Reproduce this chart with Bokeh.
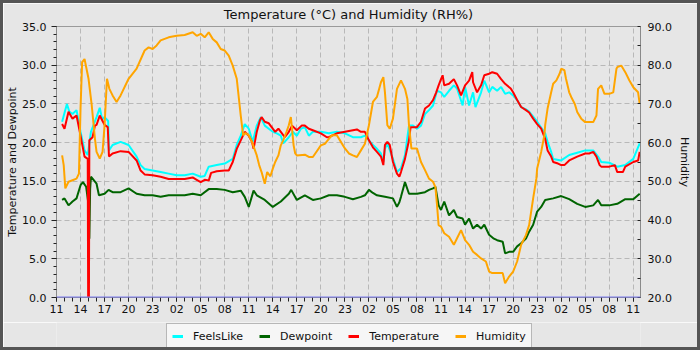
from bokeh.plotting import figure
from bokeh.layouts import column
from bokeh.models import (Range1d, LinearAxis, FixedTicker, NumeralTickFormatter,
                          Legend, LegendItem, Span, SingleIntervalTicker)
from bokeh.embed import file_html
from bokeh.resources import INLINE

# ---- axis ticks (hours since 11:00 of day 1) ----
hour_ticks = list(range(0, 73, 3))
hour_labels = ["11", "14", "17", "20", "23", "02", "05", "08"] * 3 + ["11"]

# ---- Temperature (°C) ----
temp_t = [0.7, 1.0, 1.5, 2.0, 2.5, 3.0, 3.5, 3.9, 3.95, 4.05, 4.1, 4.5, 4.8, 5.0, 5.4, 5.75, 6.0, 6.4, 6.55,
          7.0, 8.0, 9.0, 10.0, 10.5, 11.0, 12.0, 13.0, 14.0, 15.0, 16.0, 17.0, 17.5, 18.0, 18.5, 19.0, 19.3,
          20.0, 21.0, 21.5, 22.0, 22.5, 23.0, 23.5, 24.0, 24.4, 24.6, 25.0, 25.4, 25.6, 26.0, 26.5, 27.0,
          27.3, 27.7, 28.0, 28.5, 29.0, 29.4, 30.0, 30.6, 31.0, 31.5, 32.0, 33.0, 33.75, 34.0, 35.0, 36.0,
          37.0, 37.5, 38.0, 38.5, 39.0, 39.5, 40.0, 40.5, 40.8, 41.0, 41.3, 41.6, 42.0, 42.5, 42.8, 43.0,
          43.5, 44.0, 44.2, 45.0, 45.5, 46.0, 46.5, 47.0, 47.4, 47.7, 48.0, 48.2, 48.4, 49.0, 49.6, 50.0,
          50.5, 51.0, 51.5, 51.9, 52.0, 52.5, 53.0, 53.4, 54.0, 54.4, 55.0, 55.5, 56.0, 56.7, 57.0, 57.5,
          58.0, 58.6, 59.0, 59.5, 60.0, 60.5, 61.0, 61.3, 61.75, 62.0, 62.6, 63.0, 63.4, 64.0, 65.0, 66.0,
          66.5, 67.0, 67.4, 67.8, 68.0, 69.0, 69.7, 70.0, 70.7, 71.0, 72.0, 72.6, 72.8]
temp_v = [22.4, 21.8, 24.0, 23.1, 23.5, 20.9, 18.2, 17.9, 0.0, 0.0, 20.3, 20.7, 22.2, 22.3, 23.5, 22.8, 22.3, 22.0, 18.2,
          18.6, 18.9, 18.8, 17.7, 16.4, 15.9, 15.8, 15.6, 15.3, 15.3, 15.3, 15.5, 15.2, 14.9, 15.2, 15.1, 16.1,
          16.3, 16.4, 16.4, 17.5, 19.2, 20.3, 21.4, 20.9, 20.1, 19.2, 21.4, 22.9, 23.3, 22.7, 22.5, 21.8,
          21.4, 21.8, 21.4, 20.7, 21.4, 22.2, 21.6, 22.2, 22.2, 21.8, 21.6, 21.2, 20.7, 20.7, 21.2, 21.4,
          21.6, 21.7, 21.4, 21.4, 20.3, 19.4, 18.8, 18.2, 17.1, 19.7, 20.1, 19.7, 17.5, 16.0, 15.6, 16.2,
          17.9, 20.3, 22.0, 22.0, 22.7, 24.4, 24.8, 25.5, 26.5, 27.4, 28.2, 28.7, 27.4, 27.6, 28.2, 27.4,
          26.1, 27.4, 28.0, 29.1, 27.8, 26.5, 27.4, 28.7, 28.9, 29.1, 28.9, 28.2, 27.6, 27.0, 26.5, 25.5,
          24.6, 24.2, 23.9, 23.1, 22.4, 21.8, 20.5, 19.0, 18.2, 17.5, 17.3, 17.1, 17.1, 17.7, 18.2, 18.6,
          18.6, 18.8, 18.2, 17.1, 16.9, 16.9, 17.1, 16.2, 16.2, 16.9, 17.5, 17.7, 18.8]

# ---- FeelsLike (°C) ----
feels_t = [0.7, 1.3, 1.6, 2.0, 2.5, 3.0, 3.5, 3.9, 4.3, 4.7, 5.0, 5.4, 5.7, 6.0, 6.45, 6.55, 7.0, 8.0, 9.0,
           10.0, 10.5, 11.0, 12.0, 13.0, 14.0, 15.0, 16.0, 17.0, 18.0, 18.5, 19.0, 20.0, 21.0, 22.0, 22.5,
           23.0, 23.5, 24.0, 24.5, 25.0, 25.5, 26.0, 26.5, 27.0, 27.5, 28.0, 28.3, 29.0, 29.5, 30.0, 30.5,
           31.0, 31.5, 32.0, 33.0, 34.0, 35.0, 36.0, 37.0, 38.0, 38.5, 39.0, 39.5, 40.0, 40.5, 40.8, 41.0,
           41.3, 42.0, 42.5, 43.0, 43.5, 44.0, 44.5, 45.0, 45.5, 46.0, 46.5, 47.0, 47.5, 48.0, 48.4, 49.0,
           49.6, 50.0, 50.7, 51.0, 51.5, 52.0, 52.3, 53.0, 53.4, 54.0, 54.4, 55.0, 55.5, 56.0, 56.5, 57.0,
           57.5, 58.0, 58.6, 59.0, 60.0, 61.0, 61.3, 61.75, 62.0, 63.0, 64.0, 65.0, 66.0, 67.0, 67.6, 68.0,
           69.0, 70.0, 71.0, 72.0, 72.8]
feels_v = [22.7, 25.0, 24.0, 23.7, 24.2, 21.4, 19.0, 18.4, 21.4, 22.5, 23.3, 24.5, 23.0, 23.3, 22.8, 19.0, 19.7, 20.1, 19.7,
           18.2, 17.1, 16.6, 16.4, 16.2, 16.0, 15.8, 15.8, 16.0, 15.6, 15.7, 16.9, 17.1, 17.3, 17.9, 19.7,
           20.9, 22.4, 21.8, 20.1, 22.2, 23.3, 22.2, 21.8, 21.4, 21.2, 20.9, 19.9, 20.7, 21.4, 20.9, 21.8,
           22.0, 20.9, 21.4, 21.4, 21.2, 21.4, 21.2, 20.7, 20.7, 20.9, 20.3, 19.7, 19.2, 18.6, 17.5, 19.2,
           19.9, 17.9, 16.2, 16.7, 18.4, 22.2, 22.2, 21.8, 22.2, 23.7, 24.2, 24.8, 26.7, 26.5, 25.9, 26.7,
           27.4, 27.0, 24.8, 27.2, 24.8, 26.5, 24.6, 26.5, 28.0, 26.5, 27.2, 26.7, 27.2, 26.3, 26.5, 26.1,
           25.5, 24.6, 24.3, 24.0, 22.7, 21.2, 20.1, 18.8, 17.9, 17.7, 18.4, 18.7, 19.0, 19.0, 18.2, 17.5,
           17.4, 16.9, 17.1, 17.9, 19.9]

# ---- Dewpoint (°C) ----
dew_t = [0.7, 1.0, 1.5, 2.0, 2.5, 3.0, 3.3, 3.7, 4.0, 4.1, 4.2, 4.3, 5.0, 5.3, 6.0, 6.5, 7.0, 8.0, 9.0, 10.0,
         11.0, 12.0, 13.0, 14.0, 15.0, 16.0, 17.0, 18.0, 19.0, 20.0, 21.0, 22.0, 23.0, 23.5, 24.0, 24.6, 25.0,
         26.0, 27.0, 28.0, 29.0, 29.3, 30.0, 31.0, 32.0, 33.0, 34.0, 35.0, 36.0, 37.0, 38.0, 38.5, 39.0, 39.5,
         40.0, 41.0, 42.0, 42.5, 42.8, 43.0, 43.5, 44.0, 45.0, 46.0, 46.5, 47.0, 47.3, 47.7, 48.0, 48.4, 49.0,
         49.6, 50.0, 50.7, 51.0, 51.5, 52.0, 52.5, 53.0, 53.4, 54.0, 54.6, 55.0, 55.7, 56.0, 56.5, 57.0, 57.5,
         58.0, 58.6, 59.0, 59.5, 60.0, 60.5, 61.0, 62.0, 63.0, 64.0, 65.0, 66.0, 67.0, 67.6, 68.0, 69.0, 70.0,
         71.0, 72.0, 72.8]
dew_v = [12.6, 12.8, 11.9, 12.4, 12.8, 14.5, 14.9, 14.3, 12.0, 7.6, 14.0, 15.6, 14.7, 13.2, 13.4, 13.9, 13.6, 13.6, 14.1, 13.4,
         13.2, 13.2, 13.0, 13.2, 13.2, 13.2, 13.4, 13.2, 14.0, 14.0, 13.9, 13.6, 13.8, 13.0, 11.7, 13.8, 13.2,
         12.6, 11.7, 12.4, 13.4, 13.9, 12.6, 13.2, 12.6, 12.8, 13.2, 13.2, 13.0, 12.7, 13.0, 13.2, 13.9, 13.5,
         13.2, 13.0, 12.8, 11.7, 12.3, 13.0, 14.9, 13.4, 13.4, 13.6, 13.9, 14.1, 14.3, 11.9, 11.3, 12.4, 10.6,
         11.3, 10.4, 10.2, 9.4, 10.2, 8.9, 9.4, 8.9, 9.4, 8.1, 7.6, 7.4, 7.2, 5.7, 5.9, 5.9, 6.6,
         7.0, 7.6, 8.5, 9.4, 11.1, 11.7, 12.6, 12.8, 13.1, 12.7, 12.1, 11.7, 11.9, 12.6, 11.9, 11.9, 12.1,
         12.7, 12.7, 13.4]

# ---- Humidity (RH%) ----
hum_t = [0.7, 0.9, 1.1, 1.5, 2.0, 2.5, 2.8, 3.0, 3.2, 3.5, 4.0, 4.4, 4.8, 5.0, 5.4, 5.75, 6.0, 6.3, 6.6, 7.0,
         7.5, 8.0, 9.0, 10.0, 11.0, 11.5, 12.0, 12.5, 13.0, 14.0, 15.0, 16.0, 17.0, 17.5, 18.0, 18.5, 19.0,
         19.5, 20.0, 20.5, 21.0, 21.5, 22.0, 22.5, 23.0, 23.3, 23.6, 24.0, 24.4, 25.0, 25.3, 25.6, 26.0, 26.3,
         26.7, 27.0, 27.3, 27.7, 28.0, 28.3, 28.7, 29.0, 29.25, 29.4, 29.6, 29.8, 30.0, 31.0, 31.5, 32.0, 32.3,
         33.0, 33.5, 34.0, 34.4, 35.0, 35.5, 36.0, 36.5, 37.0, 37.5, 38.0, 38.5, 39.0, 39.5, 40.0, 40.5, 40.8,
         41.0, 41.3, 41.6, 42.0, 42.5, 43.0, 43.5, 43.8, 44.0, 44.3, 45.0, 45.5, 46.0, 46.5, 47.0, 47.3, 47.5,
         47.7, 48.0, 48.4, 49.0, 49.6, 50.0, 50.5, 51.0, 51.5, 52.0, 52.5, 53.0, 53.6, 54.0, 54.4, 55.0, 55.7,
         56.0, 56.5, 57.0, 57.5, 58.0, 58.6, 59.0, 59.5, 59.9, 60.0, 60.5, 60.9, 61.0, 61.3, 61.75, 62.0, 62.4,
         62.8, 63.0, 63.4, 63.6, 64.0, 64.25, 64.7, 65.0, 65.5, 66.0, 66.5, 67.0, 67.4, 67.6, 68.0, 68.4, 69.0,
         69.5, 69.9, 70.0, 70.5, 71.0, 71.5, 72.0, 72.6, 72.8]
hum_v = [56.7, 54.2, 48.2, 49.9, 50.3, 50.7, 52.0, 68.8, 80.8, 81.6, 76.5, 69.6, 61.0, 57.6, 55.9, 57.6, 64.5, 76.5, 73.9, 72.2,
         70.5, 72.2, 76.5, 79.1, 83.8, 84.6, 84.2, 85.1, 86.4, 87.2, 87.6, 87.8, 88.5, 87.6, 88.1, 87.2, 88.5,
         86.8, 85.9, 84.2, 83.8, 82.5, 79.9, 76.5, 67.0, 61.9, 62.5, 61.9, 60.2, 56.7, 54.2, 52.4, 49.4, 52.4,
         51.3, 53.3, 55.0, 56.7, 59.3, 60.6, 62.7, 64.5, 66.6, 63.6, 59.3, 57.2, 56.7, 56.9, 56.3, 56.3, 57.2,
         59.3, 59.7, 61.0, 61.9, 61.9, 60.2, 58.5, 57.2, 56.7, 56.3, 58.0, 59.7, 64.5, 70.5, 71.8, 75.6, 76.9,
         73.0, 64.5, 63.6, 66.2, 73.9, 76.1, 73.9, 71.3, 64.5, 58.5, 58.5, 55.0, 52.9, 50.7, 49.9, 48.5, 43.9,
         38.7, 38.3, 36.6, 35.7, 33.6, 35.3, 37.4, 34.8, 33.6, 31.8, 31.0, 30.1, 29.3, 26.7, 26.3, 26.3, 26.3,
         23.7, 25.4, 26.7, 29.3, 33.6, 36.1, 38.7, 45.6, 50.7, 53.3, 57.6, 61.9, 64.5, 68.8, 73.0, 75.2, 76.1,
         77.8, 79.1, 78.7, 76.5, 73.0, 71.8, 70.0, 67.9, 66.2, 65.3, 65.3, 65.3, 67.0, 73.9, 74.8, 72.6, 72.6,
         73.0, 79.1, 79.5, 79.9, 78.2, 76.1, 74.3, 73.0, 70.0]

series_names = ["FeelsLike", "Dewpoint", "Temperature", "Humidity"]
series_colors = ["#00ffff", "#006400", "#ff0000", "#ffa500"]

FONT = "DejaVu Sans"
BG = "#e6e6e6"

p = figure(width=694, height=319, x_range=Range1d(0, 72.9), y_range=Range1d(0, 35),
           output_backend="svg", toolbar_location=None,
           min_border_left=52, min_border_right=57, min_border_top=23, min_border_bottom=25,
           background_fill_color=BG, border_fill_color=BG,
           title="Temperature (°C) and Humidity (RH%)")
p.title.align = "center"
p.title.vertical_align = "top"
p.title.text_font = FONT
p.title.text_font_size = "13px"
p.title.text_font_style = "normal"
p.title.text_color = "#111111"
p.title.standoff = 5
p.outline_line_color = "#9a9a9a"
p.outline_line_width = 1

p.extra_y_ranges = {"hum": Range1d(20, 90)}

# x axis
p.xaxis.ticker = FixedTicker(ticks=hour_ticks, minor_ticks=list(range(0, 73)))
p.xaxis.major_label_overrides = {t: lab for t, lab in zip(hour_ticks, hour_labels)}
# y axis (left)
p.yaxis.ticker = SingleIntervalTicker(interval=5, num_minor_ticks=5)
p.yaxis.formatter = NumeralTickFormatter(format="0.0")
p.yaxis.axis_label = "Temperature and Dewpoint"

right = LinearAxis(y_range_name="hum", ticker=SingleIntervalTicker(interval=10, num_minor_ticks=2),
                   formatter=NumeralTickFormatter(format="0.0"), axis_label="Humidity")
p.add_layout(right, "right")

for ax in [p.xaxis[0], p.yaxis[0], right]:
    ax.axis_line_color = "#8a8a8a"
    ax.major_tick_line_color = "#222222"
    ax.minor_tick_line_color = "#222222"
    ax.major_label_text_font = FONT
    ax.major_label_text_font_size = "11px"
    ax.major_label_text_color = "#111111"
    ax.axis_label_text_font = FONT
    ax.axis_label_text_font_size = "11px"
    ax.axis_label_text_font_style = "normal"
    ax.axis_label_text_color = "#111111"
    ax.major_tick_in = 0
    ax.major_tick_out = 5
    ax.minor_tick_in = 0
    ax.minor_tick_out = 3
    ax.major_label_standoff = 5
    ax.axis_label_standoff = 3
p.yaxis[0].axis_label_standoff = 0
p.xaxis[0].minor_tick_out = 4
p.xaxis[0].major_tick_out = 4
p.xaxis[0].major_label_standoff = 3
right.major_tick_out = 0
right.major_tick_in = 0
right.minor_tick_in = 3
right.minor_tick_out = 0
right.major_label_standoff = 7
right.axis_label_standoff = 3

p.xgrid.ticker = FixedTicker(ticks=hour_ticks)
for g in [p.xgrid[0], p.ygrid[0]]:
    g.grid_line_color = "#b8b8b8"
    g.grid_line_dash = "5 3"
    g.grid_line_width = 1

p.line(feels_t, feels_v, line_color=series_colors[0], line_width=2)
p.line(dew_t, dew_v, line_color=series_colors[1], line_width=2)
p.line(temp_t, temp_v, line_color=series_colors[2], line_width=2)
p.line(hum_t, hum_v, line_color=series_colors[3], line_width=2, y_range_name="hum")

p.add_layout(Span(location=0, dimension="width", line_color="#7b7bf0", line_width=2))

# ---- legend strip under the chart ----
lf = figure(width=694, height=25, x_range=Range1d(0, 1), y_range=Range1d(0, 1),
            output_backend="svg", toolbar_location=None, x_axis_type=None, y_axis_type=None,
            min_border=0, background_fill_color=BG, border_fill_color=BG)
lf.outline_line_color = None
lf.grid.visible = False
items = []
for name, col in zip(series_names, series_colors):
    r = lf.line(x=[-5, -4], y=[-5, -5], line_color=col, line_width=3)
    items.append(LegendItem(label=name, renderers=[r]))
legend = Legend(items=items, orientation="horizontal", location=(110, -2),
                background_fill_color="#f6f6f6", background_fill_alpha=1,
                border_line_color="#777777", border_line_width=1,
                label_text_font=FONT, label_text_font_size="11px", label_text_color="#111111",
                glyph_width=11, glyph_height=14, label_height=14, label_standoff=10,
                spacing=16, padding=5, margin=0)
lf.add_layout(legend, "center")

layout = column(p, lf, spacing=0)
layout.styles = {"border": "3px solid #555555"}

open("out.html", "w").write(file_html(layout, INLINE))
